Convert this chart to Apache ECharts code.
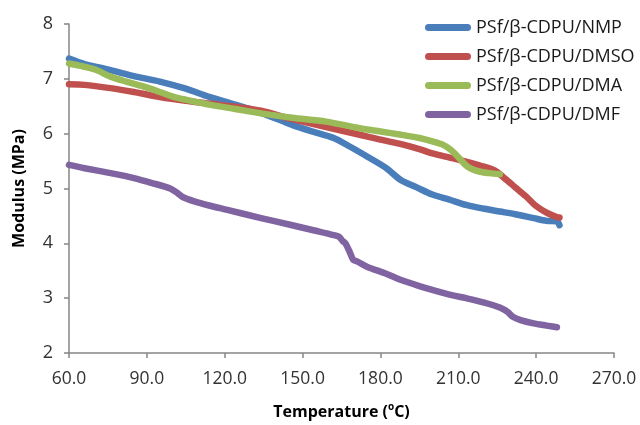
<!DOCTYPE html>
<html>
<head>
<meta charset="utf-8">
<script src="https://cdn.jsdelivr.net/npm/echarts@6/dist/echarts.min.js"></script>
<style>
  html, body { margin: 0; padding: 0; background: #fff; }
  #chart { width: 640px; height: 425px; }
</style>
</head>
<body>
<div id="chart"></div>
<script>
// Storage modulus vs temperature for PSf/β-CDPU membranes cast from four solvents
const xTicks = ['60.0', '90.0', '120.0', '150.0', '180.0', '210.0', '240.0', '270.0'];

const nmpTemp = [60, 66, 76, 85, 95, 105, 114, 124, 134, 146, 153, 162, 168, 175, 182, 188, 194, 200, 207, 213, 220, 226, 232, 239, 244, 248, 249];
const nmpMod  = [7.37, 7.27, 7.16, 7.05, 6.95, 6.82, 6.67, 6.53, 6.38, 6.16, 6.05, 5.92, 5.77, 5.58, 5.38, 5.15, 5.02, 4.89, 4.79, 4.70, 4.63, 4.58, 4.53, 4.46, 4.41, 4.40, 4.33];

const dmsoTemp = [60, 66, 76, 85, 95, 105, 114, 124, 134, 144, 153, 162, 172, 180, 188, 195, 200, 207, 213, 219, 224, 228, 232, 236, 240, 244, 248, 249];
const dmsoMod  = [6.90, 6.89, 6.83, 6.76, 6.67, 6.60, 6.55, 6.49, 6.42, 6.29, 6.19, 6.09, 5.98, 5.89, 5.81, 5.72, 5.64, 5.56, 5.49, 5.41, 5.33, 5.18, 5.02, 4.86, 4.68, 4.56, 4.48, 4.47];

const dmaTemp = [60, 64, 70, 76, 82, 88, 95, 101, 108, 114, 124, 134, 146, 159, 172, 180, 188, 195, 200, 204, 207, 209, 211, 213, 215, 218, 222, 226];
const dmaMod  = [7.28, 7.24, 7.17, 7.04, 6.95, 6.87, 6.76, 6.66, 6.59, 6.53, 6.45, 6.37, 6.29, 6.22, 6.10, 6.04, 5.98, 5.92, 5.86, 5.80, 5.71, 5.62, 5.52, 5.42, 5.36, 5.31, 5.28, 5.26];

const dmfTemp = [60, 66, 76, 85, 92, 99, 102, 104, 108, 114, 121, 134, 146, 155, 162, 164, 165.5, 166.5, 168, 169.5, 171, 175, 182, 188, 195, 200, 207, 213, 220, 226, 229, 231, 234, 239, 244, 248];
const dmfMod  = [5.43, 5.37, 5.28, 5.19, 5.10, 5.00, 4.91, 4.84, 4.77, 4.69, 4.61, 4.46, 4.33, 4.23, 4.15, 4.12, 4.04, 4.00, 3.86, 3.70, 3.67, 3.57, 3.45, 3.33, 3.22, 3.15, 3.06, 3.00, 2.92, 2.83, 2.75, 2.66, 2.60, 2.54, 2.50, 2.47];

const seriesNames = ['PSf/β-CDPU/NMP', 'PSf/β-CDPU/DMSO', 'PSf/β-CDPU/DMA', 'PSf/β-CDPU/DMF'];
const seriesColors = ['#4a7ebb', '#c0504d', '#9bbb59', '#8064a2'];

const zip = (xs, ys) => xs.map((x, i) => [x, ys[i]]);
const seriesData = [zip(nmpTemp, nmpMod), zip(dmsoTemp, dmsoMod), zip(dmaTemp, dmaMod), zip(dmfTemp, dmfMod)];

const FONT = '"Open Sans", "Noto Sans", sans-serif';
const axisGray = '#868686';

const chart = echarts.init(document.getElementById('chart'), null, { renderer: 'canvas' });
chart.setOption({
  animation: false,
  backgroundColor: '#ffffff',
  textStyle: { fontFamily: FONT },
  grid: { left: 69, right: 26, top: 24, bottom: 72, containLabel: false },
  legend: {
    orient: 'vertical',
    left: 420,
    top: 13,
    itemWidth: 46,
    itemHeight: 7,
    itemGap: 10,
    icon: 'path://M3.5,0 H42.5 A3.5,3.5 0 0 1 42.5,7 H3.5 A3.5,3.5 0 0 1 3.5,0 Z',
    textStyle: { fontFamily: FONT, fontSize: 18, color: '#1a1a1a', lineHeight: 19 },
    data: seriesNames
  },
  xAxis: {
    type: 'value',
    min: 60,
    max: 270,
    interval: 30,
    name: '{t|Temperature (}{s|o}{t|C)}',
    nameLocation: 'middle',
    nameGap: 49,
    nameTextStyle: {
      rich: {
        t: { fontFamily: FONT, fontSize: 16, fontWeight: 'bold', color: '#000', lineHeight: 20 },
        s: { fontFamily: FONT, fontSize: 10, fontWeight: 'bold', color: '#000', lineHeight: 10, verticalAlign: 'top', padding: [0, 0, 8, 0] }
      }
    },
    axisLine: { lineStyle: { color: axisGray, width: 1.5 } },
    axisTick: { show: true, inside: false, length: 5, lineStyle: { color: axisGray, width: 1.5 } },
    axisLabel: {
      fontFamily: FONT, fontSize: 17.5, color: '#333', margin: 17,
      formatter: v => xTicks[Math.round((v - 60) / 30)]
    },
    splitLine: { show: false }
  },
  yAxis: {
    type: 'value',
    min: 2,
    max: 8,
    interval: 1,
    name: 'Modulus (MPa)',
    nameLocation: 'middle',
    nameGap: 42,
    nameTextStyle: { fontFamily: FONT, fontSize: 16, fontWeight: 'bold', color: '#000' },
    axisLine: { show: true, lineStyle: { color: axisGray, width: 1.5 } },
    axisTick: { show: true, inside: false, length: 5, lineStyle: { color: axisGray, width: 1.5 } },
    axisLabel: { fontFamily: FONT, fontSize: 18, color: '#333', margin: 16 },
    splitLine: { show: false }
  },
  series: seriesNames.map((name, i) => ({
    name,
    type: 'line',
    data: seriesData[i],
    showSymbol: false,
    symbol: 'none',
    smooth: 0.3,
    color: seriesColors[i],
    lineStyle: { width: 6.5, color: seriesColors[i], cap: 'round', join: 'round' },
    z: i === 2 ? 4 : 2
  }))
});
</script>
</body>
</html>
